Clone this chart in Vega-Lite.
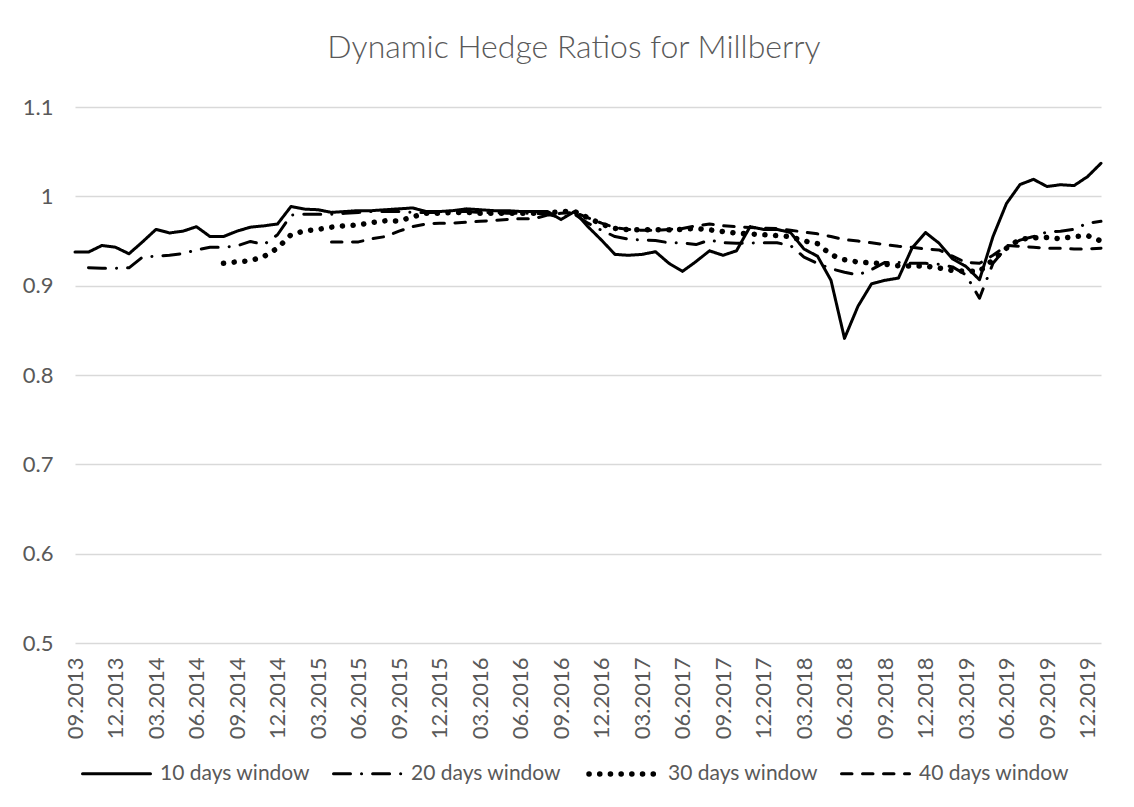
{
"$schema": "https://vega.github.io/schema/vega-lite/v6.json",
"width": 1026, "height": 536,
"autosize": {"type": "none"},
"padding": {"left": 75, "top": 107, "right": 33, "bottom": 164},
"background": "white",
"title": {"text": "Dynamic Hedge Ratios for Millberry", "font": "Lato", "fontWeight": 300, "fontSize": 32, "color": "#595959", "offset": 31, "anchor": "middle", "dx": -14},
"data": {"values": [
{"m":"09.2013","s":"10 days window","v":0.9376},{"m":"10.2013","s":"10 days window","v":0.9376},{"m":"11.2013","s":"10 days window","v":0.945},{"m":"12.2013","s":"10 days window","v":0.943},{"m":"01.2014","s":"10 days window","v":0.9357},{"m":"02.2014","s":"10 days window","v":0.949},{"m":"03.2014","s":"10 days window","v":0.963},{"m":"04.2014","s":"10 days window","v":0.959},{"m":"05.2014","s":"10 days window","v":0.961},{"m":"06.2014","s":"10 days window","v":0.966},
{"m":"07.2014","s":"10 days window","v":0.955},{"m":"08.2014","s":"10 days window","v":0.955},{"m":"09.2014","s":"10 days window","v":0.961},{"m":"10.2014","s":"10 days window","v":0.9655},{"m":"11.2014","s":"10 days window","v":0.967},{"m":"12.2014","s":"10 days window","v":0.969},{"m":"01.2015","s":"10 days window","v":0.9886},{"m":"02.2015","s":"10 days window","v":0.9857},{"m":"03.2015","s":"10 days window","v":0.985},{"m":"04.2015","s":"10 days window","v":0.982},
{"m":"05.2015","s":"10 days window","v":0.983},{"m":"06.2015","s":"10 days window","v":0.984},{"m":"07.2015","s":"10 days window","v":0.984},{"m":"08.2015","s":"10 days window","v":0.985},{"m":"09.2015","s":"10 days window","v":0.986},{"m":"10.2015","s":"10 days window","v":0.987},{"m":"11.2015","s":"10 days window","v":0.983},{"m":"12.2015","s":"10 days window","v":0.983},{"m":"01.2016","s":"10 days window","v":0.984},{"m":"02.2016","s":"10 days window","v":0.986},
{"m":"03.2016","s":"10 days window","v":0.985},{"m":"04.2016","s":"10 days window","v":0.984},{"m":"05.2016","s":"10 days window","v":0.984},{"m":"06.2016","s":"10 days window","v":0.983},{"m":"07.2016","s":"10 days window","v":0.983},{"m":"08.2016","s":"10 days window","v":0.983},{"m":"09.2016","s":"10 days window","v":0.974},{"m":"10.2016","s":"10 days window","v":0.983},{"m":"11.2016","s":"10 days window","v":0.966},{"m":"12.2016","s":"10 days window","v":0.951},
{"m":"01.2017","s":"10 days window","v":0.935},{"m":"02.2017","s":"10 days window","v":0.934},{"m":"03.2017","s":"10 days window","v":0.935},{"m":"04.2017","s":"10 days window","v":0.938},{"m":"05.2017","s":"10 days window","v":0.925},{"m":"06.2017","s":"10 days window","v":0.916},{"m":"07.2017","s":"10 days window","v":0.927},{"m":"08.2017","s":"10 days window","v":0.939},{"m":"09.2017","s":"10 days window","v":0.934},{"m":"10.2017","s":"10 days window","v":0.939},
{"m":"11.2017","s":"10 days window","v":0.966},{"m":"12.2017","s":"10 days window","v":0.963},{"m":"01.2018","s":"10 days window","v":0.963},{"m":"02.2018","s":"10 days window","v":0.9595},{"m":"03.2018","s":"10 days window","v":0.941},{"m":"04.2018","s":"10 days window","v":0.933},{"m":"05.2018","s":"10 days window","v":0.906},{"m":"06.2018","s":"10 days window","v":0.841},{"m":"07.2018","s":"10 days window","v":0.877},{"m":"08.2018","s":"10 days window","v":0.902},
{"m":"09.2018","s":"10 days window","v":0.906},{"m":"10.2018","s":"10 days window","v":0.9085},{"m":"11.2018","s":"10 days window","v":0.942},{"m":"12.2018","s":"10 days window","v":0.9595},{"m":"01.2019","s":"10 days window","v":0.9476},{"m":"02.2019","s":"10 days window","v":0.930},{"m":"03.2019","s":"10 days window","v":0.9215},{"m":"04.2019","s":"10 days window","v":0.9066},{"m":"05.2019","s":"10 days window","v":0.955},{"m":"06.2019","s":"10 days window","v":0.992},
{"m":"07.2019","s":"10 days window","v":1.0132},{"m":"08.2019","s":"10 days window","v":1.019},{"m":"09.2019","s":"10 days window","v":1.011},{"m":"10.2019","s":"10 days window","v":1.013},{"m":"11.2019","s":"10 days window","v":1.012},{"m":"12.2019","s":"10 days window","v":1.022},{"m":"01.2020","s":"10 days window","v":1.037},

{"m":"10.2013","s":"20 days window","v":0.920},{"m":"11.2013","s":"20 days window","v":0.9195},{"m":"12.2013","s":"20 days window","v":0.9195},{"m":"01.2014","s":"20 days window","v":0.920},{"m":"02.2014","s":"20 days window","v":0.932},{"m":"03.2014","s":"20 days window","v":0.933},{"m":"04.2014","s":"20 days window","v":0.934},{"m":"05.2014","s":"20 days window","v":0.936},{"m":"06.2014","s":"20 days window","v":0.940},
{"m":"07.2014","s":"20 days window","v":0.943},{"m":"08.2014","s":"20 days window","v":0.943},{"m":"09.2014","s":"20 days window","v":0.9446},{"m":"10.2014","s":"20 days window","v":0.9495},{"m":"11.2014","s":"20 days window","v":0.946},{"m":"12.2014","s":"20 days window","v":0.957},{"m":"01.2015","s":"20 days window","v":0.979},{"m":"02.2015","s":"20 days window","v":0.980},{"m":"03.2015","s":"20 days window","v":0.980},{"m":"04.2015","s":"20 days window","v":0.980},
{"m":"05.2015","s":"20 days window","v":0.981},{"m":"06.2015","s":"20 days window","v":0.982},{"m":"07.2015","s":"20 days window","v":0.983},{"m":"08.2015","s":"20 days window","v":0.983},{"m":"09.2015","s":"20 days window","v":0.983},{"m":"10.2015","s":"20 days window","v":0.982},{"m":"11.2015","s":"20 days window","v":0.982},{"m":"12.2015","s":"20 days window","v":0.982},{"m":"01.2016","s":"20 days window","v":0.983},{"m":"02.2016","s":"20 days window","v":0.983},
{"m":"03.2016","s":"20 days window","v":0.982},{"m":"04.2016","s":"20 days window","v":0.982},{"m":"05.2016","s":"20 days window","v":0.981},{"m":"06.2016","s":"20 days window","v":0.981},{"m":"07.2016","s":"20 days window","v":0.981},{"m":"08.2016","s":"20 days window","v":0.980},{"m":"09.2016","s":"20 days window","v":0.976},{"m":"10.2016","s":"20 days window","v":0.980},{"m":"11.2016","s":"20 days window","v":0.970},{"m":"12.2016","s":"20 days window","v":0.962},
{"m":"01.2017","s":"20 days window","v":0.955},{"m":"02.2017","s":"20 days window","v":0.952},{"m":"03.2017","s":"20 days window","v":0.951},{"m":"04.2017","s":"20 days window","v":0.9506},{"m":"05.2017","s":"20 days window","v":0.948},{"m":"06.2017","s":"20 days window","v":0.948},{"m":"07.2017","s":"20 days window","v":0.946},{"m":"08.2017","s":"20 days window","v":0.951},{"m":"09.2017","s":"20 days window","v":0.948},{"m":"10.2017","s":"20 days window","v":0.9475},
{"m":"11.2017","s":"20 days window","v":0.9476},{"m":"12.2017","s":"20 days window","v":0.948},{"m":"01.2018","s":"20 days window","v":0.948},{"m":"02.2018","s":"20 days window","v":0.945},{"m":"03.2018","s":"20 days window","v":0.932},{"m":"04.2018","s":"20 days window","v":0.925},{"m":"05.2018","s":"20 days window","v":0.919},{"m":"06.2018","s":"20 days window","v":0.915},{"m":"07.2018","s":"20 days window","v":0.912},{"m":"08.2018","s":"20 days window","v":0.918},
{"m":"09.2018","s":"20 days window","v":0.926},{"m":"10.2018","s":"20 days window","v":0.926},{"m":"11.2018","s":"20 days window","v":0.925},{"m":"12.2018","s":"20 days window","v":0.925},{"m":"01.2019","s":"20 days window","v":0.924},{"m":"02.2019","s":"20 days window","v":0.921},{"m":"03.2019","s":"20 days window","v":0.912},{"m":"04.2019","s":"20 days window","v":0.886},{"m":"05.2019","s":"20 days window","v":0.925},{"m":"06.2019","s":"20 days window","v":0.943},
{"m":"07.2019","s":"20 days window","v":0.951},{"m":"08.2019","s":"20 days window","v":0.955},{"m":"09.2019","s":"20 days window","v":0.960},{"m":"10.2019","s":"20 days window","v":0.961},{"m":"11.2019","s":"20 days window","v":0.963},{"m":"12.2019","s":"20 days window","v":0.970},{"m":"01.2020","s":"20 days window","v":0.972},

{"m":"08.2014","s":"30 days window","v":0.925},{"m":"09.2014","s":"30 days window","v":0.9267},{"m":"10.2014","s":"30 days window","v":0.928},{"m":"11.2014","s":"30 days window","v":0.9327},{"m":"12.2014","s":"30 days window","v":0.942},{"m":"01.2015","s":"30 days window","v":0.957},{"m":"02.2015","s":"30 days window","v":0.9614},{"m":"03.2015","s":"30 days window","v":0.963},{"m":"04.2015","s":"30 days window","v":0.9655},
{"m":"05.2015","s":"30 days window","v":0.967},{"m":"06.2015","s":"30 days window","v":0.968},{"m":"07.2015","s":"30 days window","v":0.9707},{"m":"08.2015","s":"30 days window","v":0.9726},{"m":"09.2015","s":"30 days window","v":0.9725},{"m":"10.2015","s":"30 days window","v":0.977},{"m":"11.2015","s":"30 days window","v":0.981},{"m":"12.2015","s":"30 days window","v":0.981},{"m":"01.2016","s":"30 days window","v":0.982},{"m":"02.2016","s":"30 days window","v":0.982},
{"m":"03.2016","s":"30 days window","v":0.981},{"m":"04.2016","s":"30 days window","v":0.981},{"m":"05.2016","s":"30 days window","v":0.981},{"m":"06.2016","s":"30 days window","v":0.981},{"m":"07.2016","s":"30 days window","v":0.981},{"m":"08.2016","s":"30 days window","v":0.981},{"m":"09.2016","s":"30 days window","v":0.983},{"m":"10.2016","s":"30 days window","v":0.983},{"m":"11.2016","s":"30 days window","v":0.976},{"m":"12.2016","s":"30 days window","v":0.969},
{"m":"01.2017","s":"30 days window","v":0.964},{"m":"02.2017","s":"30 days window","v":0.9625},{"m":"03.2017","s":"30 days window","v":0.9625},{"m":"04.2017","s":"30 days window","v":0.9625},{"m":"05.2017","s":"30 days window","v":0.9625},{"m":"06.2017","s":"30 days window","v":0.963},{"m":"07.2017","s":"30 days window","v":0.964},{"m":"08.2017","s":"30 days window","v":0.9625},{"m":"09.2017","s":"30 days window","v":0.9606},{"m":"10.2017","s":"30 days window","v":0.9588},
{"m":"11.2017","s":"30 days window","v":0.958},{"m":"12.2017","s":"30 days window","v":0.957},{"m":"01.2018","s":"30 days window","v":0.956},{"m":"02.2018","s":"30 days window","v":0.955},{"m":"03.2018","s":"30 days window","v":0.950},{"m":"04.2018","s":"30 days window","v":0.947},{"m":"05.2018","s":"30 days window","v":0.9346},{"m":"06.2018","s":"30 days window","v":0.929},{"m":"07.2018","s":"30 days window","v":0.9264},{"m":"08.2018","s":"30 days window","v":0.9256},
{"m":"09.2018","s":"30 days window","v":0.924},{"m":"10.2018","s":"30 days window","v":0.9223},{"m":"11.2018","s":"30 days window","v":0.922},{"m":"12.2018","s":"30 days window","v":0.922},{"m":"01.2019","s":"30 days window","v":0.9197},{"m":"02.2019","s":"30 days window","v":0.917},{"m":"03.2019","s":"30 days window","v":0.916},{"m":"04.2019","s":"30 days window","v":0.916},{"m":"05.2019","s":"30 days window","v":0.929},{"m":"06.2019","s":"30 days window","v":0.942},
{"m":"07.2019","s":"30 days window","v":0.952},{"m":"08.2019","s":"30 days window","v":0.9536},{"m":"09.2019","s":"30 days window","v":0.954},{"m":"10.2019","s":"30 days window","v":0.9525},{"m":"11.2019","s":"30 days window","v":0.955},{"m":"12.2019","s":"30 days window","v":0.956},{"m":"01.2020","s":"30 days window","v":0.950},

{"m":"04.2015","s":"40 days window","v":0.9488},
{"m":"05.2015","s":"40 days window","v":0.9488},{"m":"06.2015","s":"40 days window","v":0.949},{"m":"07.2015","s":"40 days window","v":0.9525},{"m":"08.2015","s":"40 days window","v":0.955},{"m":"09.2015","s":"40 days window","v":0.961},{"m":"10.2015","s":"40 days window","v":0.966},{"m":"11.2015","s":"40 days window","v":0.969},{"m":"12.2015","s":"40 days window","v":0.970},{"m":"01.2016","s":"40 days window","v":0.970},{"m":"02.2016","s":"40 days window","v":0.971},
{"m":"03.2016","s":"40 days window","v":0.972},{"m":"04.2016","s":"40 days window","v":0.973},{"m":"05.2016","s":"40 days window","v":0.974},{"m":"06.2016","s":"40 days window","v":0.975},{"m":"07.2016","s":"40 days window","v":0.975},{"m":"08.2016","s":"40 days window","v":0.979},{"m":"09.2016","s":"40 days window","v":0.981},{"m":"10.2016","s":"40 days window","v":0.982},{"m":"11.2016","s":"40 days window","v":0.976},{"m":"12.2016","s":"40 days window","v":0.970},
{"m":"01.2017","s":"40 days window","v":0.965},{"m":"02.2017","s":"40 days window","v":0.963},{"m":"03.2017","s":"40 days window","v":0.962},{"m":"04.2017","s":"40 days window","v":0.962},{"m":"05.2017","s":"40 days window","v":0.963},{"m":"06.2017","s":"40 days window","v":0.964},{"m":"07.2017","s":"40 days window","v":0.967},{"m":"08.2017","s":"40 days window","v":0.969},{"m":"09.2017","s":"40 days window","v":0.967},{"m":"10.2017","s":"40 days window","v":0.966},
{"m":"11.2017","s":"40 days window","v":0.965},{"m":"12.2017","s":"40 days window","v":0.9644},{"m":"01.2018","s":"40 days window","v":0.964},{"m":"02.2018","s":"40 days window","v":0.962},{"m":"03.2018","s":"40 days window","v":0.960},{"m":"04.2018","s":"40 days window","v":0.958},{"m":"05.2018","s":"40 days window","v":0.955},{"m":"06.2018","s":"40 days window","v":0.9515},{"m":"07.2018","s":"40 days window","v":0.950},{"m":"08.2018","s":"40 days window","v":0.948},
{"m":"09.2018","s":"40 days window","v":0.946},{"m":"10.2018","s":"40 days window","v":0.944},{"m":"11.2018","s":"40 days window","v":0.943},{"m":"12.2018","s":"40 days window","v":0.941},{"m":"01.2019","s":"40 days window","v":0.940},{"m":"02.2019","s":"40 days window","v":0.933},{"m":"03.2019","s":"40 days window","v":0.926},{"m":"04.2019","s":"40 days window","v":0.925},{"m":"05.2019","s":"40 days window","v":0.934},{"m":"06.2019","s":"40 days window","v":0.945},
{"m":"07.2019","s":"40 days window","v":0.944},{"m":"08.2019","s":"40 days window","v":0.943},{"m":"09.2019","s":"40 days window","v":0.942},{"m":"10.2019","s":"40 days window","v":0.942},{"m":"11.2019","s":"40 days window","v":0.941},{"m":"12.2019","s":"40 days window","v":0.941},{"m":"01.2020","s":"40 days window","v":0.942}
]},
"mark": {"type": "line", "color": "black", "strokeCap": "round", "strokeJoin": "round"},
"encoding": {
  "x": {"field": "m", "type": "ordinal", "sort": null, "scale": {"type": "point", "padding": 0},
        "axis": {"title": null, "values": ["09.2013","12.2013","03.2014","06.2014","09.2014","12.2014","03.2015","06.2015","09.2015","12.2015","03.2016","06.2016","09.2016","12.2016","03.2017","06.2017","09.2017","12.2017","03.2018","06.2018","09.2018","12.2018","03.2019","06.2019","09.2019","12.2019"],
                 "labelAngle": -90, "labelFont": "Lato", "labelFontSize": 22, "labelColor": "#595959", "labelPadding": 14, "ticks": false, "domain": false, "grid": false, "labelOverlap": false}},
  "y": {"field": "v", "type": "quantitative", "scale": {"domain": [0.5, 1.1], "nice": false, "zero": false},
        "axis": {"title": null, "values": [0.5, 0.6, 0.7, 0.8, 0.9, 1, 1.1], "format": "~g", "labelFont": "Lato", "labelFontSize": 22, "labelColor": "#595959", "labelPadding": 22, "ticks": false, "domain": false, "gridColor": "#d9d9d9", "gridWidth": 1.3, "minExtent": 75, "maxExtent": 75}},
  "strokeWidth": {"field": "s", "type": "nominal",
        "scale": {"type": "ordinal", "domain": ["10 days window", "20 days window", "30 days window", "40 days window"], "range": [3, 3, 5.5, 3]},
        "legend": {"title": null, "orient": "none", "legendX": 6, "legendY": 630, "direction": "horizontal", "symbolType": "stroke", "symbolSize": 4624, "symbolStrokeColor": "black", "labelFont": "Lato", "labelFontSize": 21, "labelColor": "#595959", "labelOffset": 8, "columnPadding": 16, "labelLimit": 300,
                   "encode": {"symbols": {"update": {"strokeCap": {"value": "round"}}}}}},
  "strokeDash": {"field": "s", "type": "nominal",
        "scale": {"domain": ["10 days window", "20 days window", "30 days window", "40 days window"], "range": [[1, 0], [17, 11, 0.1, 11], [0.1, 10.6], [10.5, 10.5]]},
        "legend": {"title": null, "orient": "none", "legendX": 6, "legendY": 630, "direction": "horizontal", "symbolType": "stroke", "symbolSize": 4624, "symbolStrokeColor": "black", "labelFont": "Lato", "labelFontSize": 21, "labelColor": "#595959", "labelOffset": 8, "columnPadding": 16, "labelLimit": 300,
                   "encode": {"symbols": {"update": {"strokeCap": {"value": "round"}}}}}}
},
"config": {"view": {"stroke": null}}
}
